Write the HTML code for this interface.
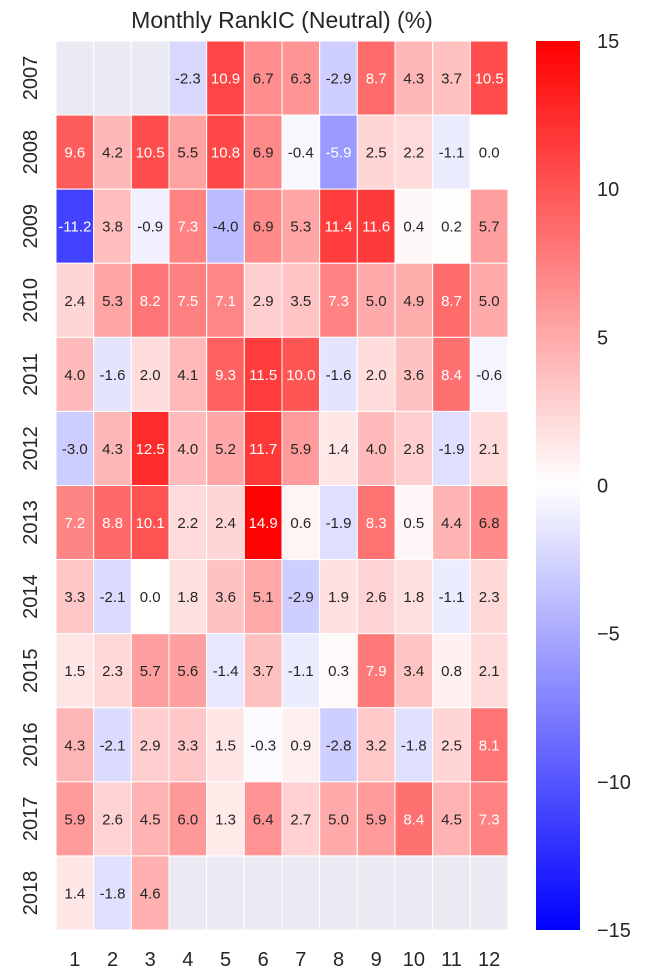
<!DOCTYPE html>
<html><head><meta charset="utf-8"><style>
body{margin:0;background:#fff;font-family:"Liberation Sans",Arial,sans-serif}
</style></head><body>
<svg id="chart" width="651" height="975" xmlns="http://www.w3.org/2000/svg">
<text x="282" y="28" font-size="23" text-anchor="middle" fill="#262626">Monthly RankIC (Neutral) (%)</text>
<defs><linearGradient id="cb" x1="0" y1="0" x2="0" y2="1">
<stop offset="0" stop-color="#ff0000"/><stop offset="0.5" stop-color="#ffffff"/><stop offset="1" stop-color="#0000ff"/></linearGradient></defs>
<g id="cells"></g>
</svg>
<script>
const years=["2007","2008","2009","2010","2011","2012","2013","2014","2015","2016","2017","2018"];
const months=["1","2","3","4","5","6","7","8","9","10","11","12"];
const values=[
[null,null,null,-2.3,10.9,6.7,6.3,-2.9,8.7,4.3,3.7,10.5],
[9.6,4.2,10.5,5.5,10.8,6.9,-0.4,-5.9,2.5,2.2,-1.1,0.0],
[-11.2,3.8,-0.9,7.3,-4.0,6.9,5.3,11.4,11.6,0.4,0.2,5.7],
[2.4,5.3,8.2,7.5,7.1,2.9,3.5,7.3,5.0,4.9,8.7,5.0],
[4.0,-1.6,2.0,4.1,9.3,11.5,10.0,-1.6,2.0,3.6,8.4,-0.6],
[-3.0,4.3,12.5,4.0,5.2,11.7,5.9,1.4,4.0,2.8,-1.9,2.1],
[7.2,8.8,10.1,2.2,2.4,14.9,0.6,-1.9,8.3,0.5,4.4,6.8],
[3.3,-2.1,0.0,1.8,3.6,5.1,-2.9,1.9,2.6,1.8,-1.1,2.3],
[1.5,2.3,5.7,5.6,-1.4,3.7,-1.1,0.3,7.9,3.4,0.8,2.1],
[4.3,-2.1,2.9,3.3,1.5,-0.3,0.9,-2.8,3.2,-1.8,2.5,8.1],
[5.9,2.6,4.5,6.0,1.3,6.4,2.7,5.0,5.9,8.4,4.5,7.3],
[1.4,-1.8,4.6,null,null,null,null,null,null,null,null,null]];
const cbTicks=[15,10,5,0,-5,-10,-15];
const vmin=-15,vmax=15;
const X0=56,X1=508,Y0=41,Y1=930,CBX=536,CBW=44;
const cw=(X1-X0)/months.length, rh=(Y1-Y0)/years.length;
const xs=i=>X0+i*cw, ys=j=>Y0+j*rh;
const cbY=v=>Y0+(vmax-v)/(vmax-vmin)*(Y1-Y0);
const NS="http://www.w3.org/2000/svg";
const svg=document.getElementById('chart'), g=document.getElementById('cells');
function mk(t,a,p){const e=document.createElementNS(NS,t);for(const k in a)e.setAttribute(k,a[k]);(p||svg).appendChild(e);return e;}
function col(v){const t=Math.max(-1,Math.min(1,v/15));
 if(t>=0){const c=1-t;return[1,c,c];}const c=1+t;return[c,c,1];}
function lum(c){const l=c.map(x=>x<=0.03928?x/12.92:Math.pow((x+0.055)/1.055,2.4));return .2126*l[0]+.7152*l[1]+.0722*l[2];}
values.forEach((row,j)=>row.forEach((v,i)=>{
 const r=mk('rect',{x:xs(i),y:ys(j),width:cw,height:rh,stroke:'#fff','stroke-width':1},g);
 
 
 if(v===null){r.setAttribute('fill','#eaeaf2');return;}
 const c=col(v);r.setAttribute('fill','rgb('+c.map(x=>Math.round(x*255)).join(',')+')');
 const t=mk('text',{x:xs(i)+cw/2,y:ys(j)+rh/2+5.5,'font-size':15,'text-anchor':'middle',fill:lum(c)<0.408?'#fff':'#262626'},g);
 t.textContent=v.toFixed(1);
 
 
}));
years.forEach((y,j)=>{const cx=30,cy=ys(j)+rh/2;
 const t=mk('text',{x:cx,y:cy+7,'font-size':20,'text-anchor':'middle',fill:'#262626',transform:'rotate(-90 '+cx+' '+cy+')'});
 t.textContent=y;});
months.forEach((m,i)=>{const t=mk('text',{x:xs(i)+cw/2,y:966,'font-size':20,'text-anchor':'middle',fill:'#262626'});
 t.textContent=m;});
const cb=mk('rect',{x:CBX,y:Y0,width:CBW,height:Y1-Y0,fill:'url(#cb)'});

cbTicks.forEach(v=>{const t=mk('text',{x:597,y:cbY(v)+7,'font-size':20,fill:'#262626'});
 t.textContent=(v<0?'\u2212'+(-v):String(v));});
</script>
</body></html>
